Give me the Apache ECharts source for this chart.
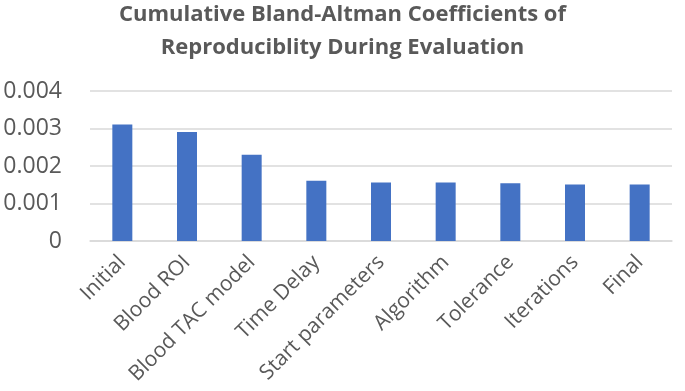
<!DOCTYPE html>
<html>
<head>
<meta charset="utf-8">
<script src="https://cdn.jsdelivr.net/npm/echarts@6/dist/echarts.min.js"></script>
<style>
  html, body { margin: 0; padding: 0; background: #fff; }
  #chart { width: 685px; height: 391px; }
</style>
</head>
<body>
<div id="chart"></div>
<script>
// categories and values
const categories = ['Initial', 'Blood ROI', 'Blood TAC model', 'Time Delay', 'Start parameters', 'Algorithm', 'Tolerance', 'Iterations', 'Final']
const coefficients = [0.00311, 0.00291, 0.0023, 0.00161, 0.00156, 0.00156, 0.00154, 0.00151, 0.00151]
const yTicks = [0, 0.001, 0.002, 0.003, 0.004]

const chart = echarts.init(document.getElementById('chart'))
const textColor = '#595959'

chart.setOption({
  title: {
    text: 'Cumulative Bland-Altman Coefficients of\nReproduciblity During Evaluation',
    left: 'center',
    top: -7,
    textStyle: {
      color: textColor,
      fontFamily: 'Open Sans',
      fontWeight: 'bold',
      fontSize: 22,
      lineHeight: 33
    }
  },
  grid: {
    left: 90,
    right: 13,
    top: 91,
    bottom: 150
  },
  xAxis: {
    type: 'category',
    data: categories,
    axisTick: { show: false },
    axisLine: { lineStyle: { color: '#d9d9d9', width: 1.5 } },
    axisLabel: {
      rotate: 45,
      interval: 0,
      margin: 18,
      color: textColor,
      fontFamily: 'Open Sans',
      fontSize: 21
    }
  },
  yAxis: {
    type: 'value',
    min: 0,
    max: 0.004,
    interval: 0.001,
    axisLine: { show: false },
    axisTick: { show: false },
    splitLine: { lineStyle: { color: '#d9d9d9', width: 1.5 } },
    axisLabel: {
      margin: 28,
      color: textColor,
      fontFamily: 'Open Sans',
      fontSize: 23,
      formatter: function(v) {
        return yTicks.indexOf(v) >= 0 ? String(v) : ''
      }
    }
  },
  series: [
    {
      type: 'bar',
      data: coefficients,
      barWidth: 20,
      itemStyle: { color: '#4472C4' }
    }
  ]
})
</script>
</body>
</html>
